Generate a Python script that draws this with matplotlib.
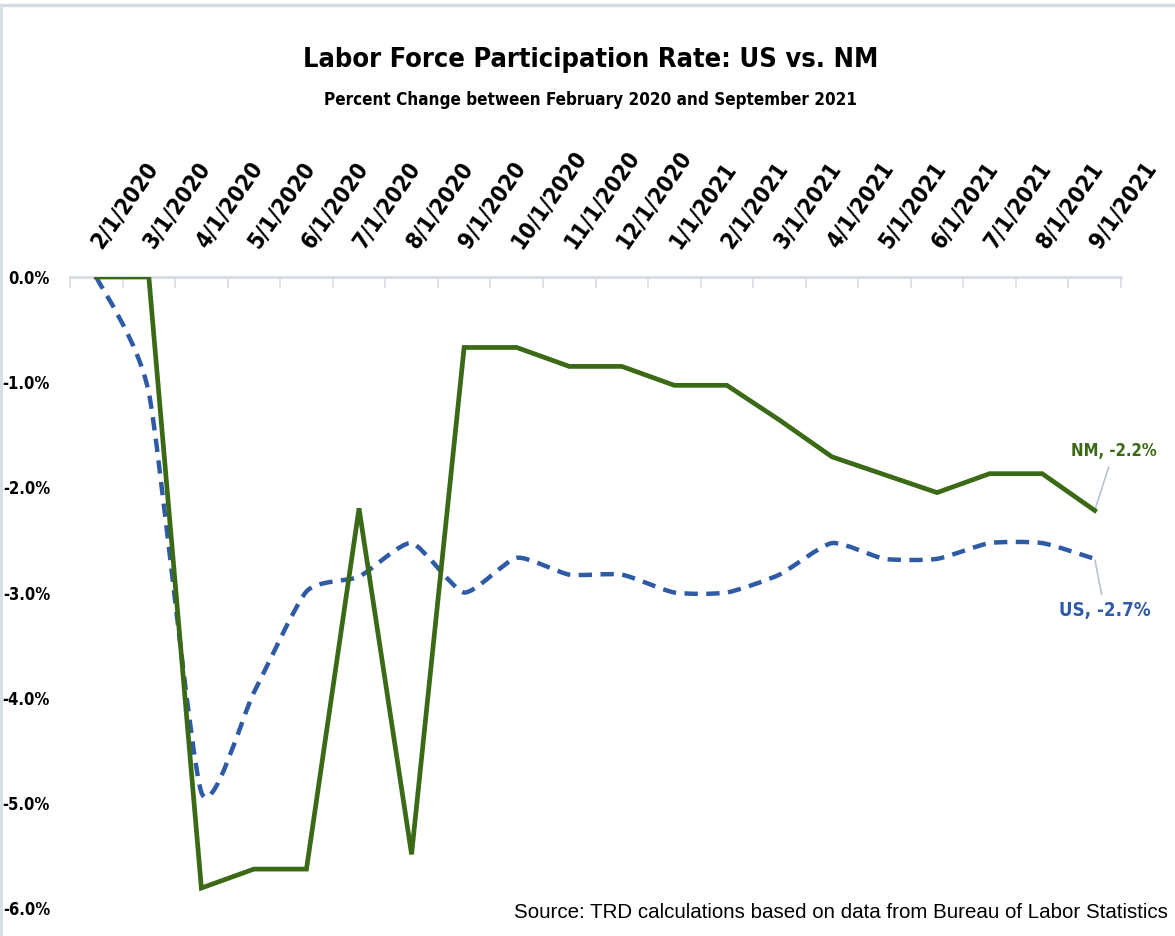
import os
import numpy as np
import matplotlib
matplotlib.use("Agg")
import matplotlib.pyplot as plt
from matplotlib.path import Path
from matplotlib.patches import PathPatch
from matplotlib import font_manager
from matplotlib.font_manager import FontProperties

dates = ["2/1/2020", "3/1/2020", "4/1/2020", "5/1/2020", "6/1/2020", "7/1/2020",
         "8/1/2020", "9/1/2020", "10/1/2020", "11/1/2020", "12/1/2020", "1/1/2021",
         "2/1/2021", "3/1/2021", "4/1/2021", "5/1/2021", "6/1/2021", "7/1/2021",
         "8/1/2021", "9/1/2021"]
nm = [0.0, 0.0, -5.81, -5.63, -5.63, -2.20, -5.49, -0.67, -0.67, -0.85,
      -0.85, -1.03, -1.03, -1.36, -1.71, -1.88, -2.05, -1.87, -1.87, -2.22]
us = [0.0, -1.10, -4.90, -3.95, -2.99, -2.85, -2.53, -3.00, -2.67, -2.83,
      -2.83, -3.00, -3.00, -2.83, -2.53, -2.68, -2.68, -2.53, -2.53, -2.68]
yticks = [0, -1, -2, -3, -4, -5, -6]

GREEN = "#3b6a17"
BLUE = "#2f5ba6"
GRID = "#d6dce6"


# look for a narrow bold face, the original uses a condensed font
def find_narrow_bold():
    wanted = ["LiberationSansNarrow-Bold", "DejaVuSansCondensed-Bold", "RobotoCondensed-Bold",
              "OpenSans_Condensed-Bold", "OpenSansCondensed-Bold", "NotoSans-CondensedBold"]
    files = [f.fname for f in font_manager.fontManager.ttflist]
    for w in wanted:
        for fn in files:
            if os.path.splitext(os.path.basename(fn))[0].replace(" ", "") == w:
                return fn
    return None


narrow_file = find_narrow_bold()


def bold_fp(size):
    if narrow_file:
        return FontProperties(fname=narrow_file, size=size)
    return FontProperties(family="DejaVu Sans", weight="bold", size=size)


def regular_fp(size):
    return FontProperties(family="Liberation Sans", size=size)


def smooth_path(x, y, k=0.1):
    # smoothed line: cubic bezier segments through every point
    px = np.concatenate([[x[0]], x, [x[-1]]])
    py = np.concatenate([[y[0]], y, [y[-1]]])
    verts = [(x[0], y[0])]
    codes = [Path.MOVETO]
    for i in range(1, len(x)):
        c1 = (px[i] + (px[i + 1] - px[i - 1]) * k, py[i] + (py[i + 1] - py[i - 1]) * k)
        c2 = (px[i + 1] - (px[i + 2] - px[i]) * k, py[i + 1] - (py[i + 2] - py[i]) * k)
        verts += [c1, c2, (px[i + 1], py[i + 1])]
        codes += [Path.CURVE4] * 3
    return Path(verts, codes)


fig = plt.figure(figsize=(11.75, 9.36), dpi=100)
renderer = fig.canvas.get_renderer()


def fit_size(s, target_px, make_fp, base=20, grow=1.0):
    # font size that gives the text the width it has in the original picture
    t = fig.text(0, 0, s, fontproperties=make_fp(base))
    w = t.get_window_extent(renderer).width
    t.remove()
    return base * target_px / w * grow


ax = fig.add_axes([70 / 1175, 28 / 936, 1051 / 1175, 631 / 936])

x = np.arange(len(dates))
ax.add_patch(PathPatch(smooth_path(x, np.array(us)), fill=False, edgecolor=BLUE,
                       lw=3.2, linestyle=(0, (3.0, 1.9)), capstyle="butt", zorder=3))
ax.plot(x, nm, color=GREEN, lw=3.4, zorder=4, solid_joinstyle="miter")

ax.set_xlim(-0.5, len(dates) - 0.5)
ax.set_ylim(-6, 0)

for s in ["left", "right", "bottom"]:
    ax.spines[s].set_visible(False)
ax.spines["top"].set_color(GRID)
ax.spines["top"].set_linewidth(2)

xfp = bold_fp(fit_size("10/1/2020", 109, bold_fp, grow=1.05))
yfp = bold_fp(fit_size("-6.0%", 46, bold_fp, grow=1.03))

ax.xaxis.tick_top()
ax.set_xticks(x)
ax.set_xticklabels(dates, rotation=55, ha="left", va="center", rotation_mode="anchor")
for lbl in ax.get_xticklabels():
    lbl.set_fontproperties(xfp)
ax.set_xticks(np.arange(-0.5, len(dates)), minor=True)
ax.tick_params(axis="x", which="major", length=0, pad=22)
ax.tick_params(axis="x", which="minor", direction="in", length=8, color=GRID, width=1.2)

ax.set_yticks(yticks)
ax.set_yticklabels([f"{v:.1f}%" for v in yticks])
for lbl in ax.get_yticklabels():
    lbl.set_fontproperties(yfp)
ax.tick_params(axis="y", length=0, pad=14.4)

nm_fp = bold_fp(fit_size("NM, -2.2%", 78, bold_fp, grow=1.1))
us_fp = bold_fp(fit_size("US, -2.7%", 83, bold_fp, grow=1.1))
ax.annotate(f"NM, {nm[-1]:.1f}%", (x[-1], nm[-1]), xytext=(19, 59), textcoords="offset pixels",
            ha="center", va="center", color=GREEN, fontproperties=nm_fp,
            arrowprops=dict(arrowstyle="-", color="#b9c3d3", lw=1.2, shrinkA=3, shrinkB=1))
ax.annotate(f"US, {us[-1]:.1f}%", (x[-1], us[-1]), xytext=(10, -52), textcoords="offset pixels",
            ha="center", va="center", color=BLUE, fontproperties=us_fp,
            arrowprops=dict(arrowstyle="-", color="#b9c3d3", lw=1.2, shrinkA=3, shrinkB=1))

title = "Labor Force Participation Rate: US vs. NM"
subtitle = "Percent Change between February 2020 and September 2021"
source = "Source: TRD calculations based on data from Bureau of Labor Statistics"
fig.text(591 / 1175, 1 - 60 / 936, title, ha="center", va="center",
         fontproperties=bold_fp(fit_size(title, 533, bold_fp, grow=1.08)))
fig.text(590 / 1175, 1 - 100 / 936, subtitle, ha="center", va="center",
         fontproperties=bold_fp(fit_size(subtitle, 493, bold_fp, grow=1.08)))
fig.text(1168 / 1175, 1 - 912 / 936, source, ha="right", va="center",
         fontproperties=regular_fp(fit_size(source, 651, regular_fp)))

# light frame round the chart area, kept behind everything else
fig.add_artist(plt.Line2D([0, 1], [1 - 5 / 936] * 2, color=GRID, lw=2.5, zorder=-5))
fig.add_artist(plt.Line2D([1.0 / 1175] * 2, [0, 1 - 5 / 936], color=GRID, lw=2.0, zorder=-5))

fig.savefig("out.png", dpi=100)
